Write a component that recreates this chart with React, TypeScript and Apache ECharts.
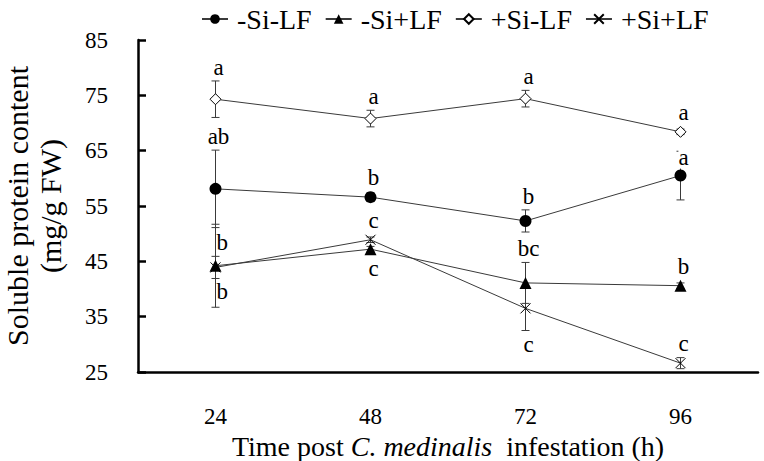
import React, { useEffect, useRef } from "react";
import * as echarts from "echarts";

// ---- data ----
const categories = ["24", "48", "72", "96"];
const seriesNames = ["-Si-LF", "-Si+LF", "+Si-LF", "+Si+LF"];

const minusSiMinusLF = [58.1, 56.6, 52.3, 60.5];
const minusSiMinusLFErr = [7.0, 0.8, 2.0, 4.4];

const minusSiPlusLF = [44.2, 47.2, 41.1, 40.6];
const minusSiPlusLFErr = [7.5, 0.5, 3.7, 0.5];

const plusSiMinusLF = [74.3, 70.8, 74.4, 68.4];
const plusSiMinusLFErr = [3.3, 1.5, 1.5, 0.5];

const plusSiPlusLF = [43.9, 48.9, 36.5, 26.6];
const plusSiPlusLFErr = [2.0, 0.5, 4.0, 1.0];

const yMin = 25;
const yMax = 85;
const yInterval = 10;

// significance letters: [series index, category index, side, text]
const letterNotes: [number, number, string, string][] = [
  [2, 0, "top", "a"],
  [2, 1, "top", "a"],
  [2, 2, "top", "a"],
  [2, 3, "top", "a"],
  [0, 0, "top", "ab"],
  [0, 1, "top", "b"],
  [0, 2, "top", "b"],
  [0, 3, "top-mark", "a"],
  [3, 0, "top-right", "b"],
  [3, 0, "bottom-right", "b"],
  [3, 1, "top", "c"],
  [1, 1, "bottom", "c"],
  [1, 2, "top", "bc"],
  [3, 2, "bottom", "c"],
  [1, 3, "top", "b"],
  [3, 3, "top", "c"],
];

const means = [minusSiMinusLF, minusSiPlusLF, plusSiMinusLF, plusSiPlusLF];
const errs = [minusSiMinusLFErr, minusSiPlusLFErr, plusSiMinusLFErr, plusSiPlusLFErr];

const FONT = "Times New Roman, Liberation Serif, serif";
const LINE = "#3a3a3a";

const symbols = [
  { symbol: "circle", size: 12, color: "#000", border: "#000" },
  { symbol: "triangle", size: 12, color: "#000", border: "#000" },
  { symbol: "diamond", size: 11, color: "#fff", border: "#000" },
  { symbol: "path://M0,0L10,10M10,0L0,10", size: 10, color: "none", border: "#000" },
];

export default function App() {
  const ref = useRef<HTMLDivElement>(null);
  useEffect(() => {
    if (!ref.current) return;
    const chart = echarts.init(ref.current, null, { renderer: "svg" });

    const lineSeries = seriesNames.map((name, i) => ({
      name,
      type: "line",
      data: means[i],
      symbol: symbols[i].symbol,
      symbolSize: symbols[i].size,
      showSymbol: true,
      z: 3,
      lineStyle: { color: LINE, width: 1 },
      itemStyle: {
        color: symbols[i].color,
        borderColor: symbols[i].border,
        borderWidth: i >= 2 ? 1 : 0,
        opacity: 1,
      },
      emphasis: { disabled: true },
    }));

    const errorData: number[][] = [];
    means.forEach((m, si) =>
      m.forEach((v, ci) => errorData.push([ci, v, errs[si][ci]]))
    );

    const errorSeries = {
      type: "custom",
      name: "err",
      z: 1,
      silent: true,
      data: errorData,
      encode: { x: 0, y: 1 },
      renderItem: (params: any, api: any) => {
        const c = api.value(0);
        const v = api.value(1);
        const e = api.value(2);
        const top = api.coord([c, v + e]);
        const bot = api.coord([c, v - e]);
        const hw = 4;
        const st = { stroke: LINE, lineWidth: 1 };
        return {
          type: "group",
          children: [
            { type: "line", shape: { x1: top[0], y1: top[1], x2: bot[0], y2: bot[1] }, style: st },
            { type: "line", shape: { x1: top[0] - hw, y1: top[1], x2: top[0] + hw, y2: top[1] }, style: st },
            { type: "line", shape: { x1: bot[0] - hw, y1: bot[1], x2: bot[0] + hw, y2: bot[1] }, style: st },
          ],
        };
      },
    };

    const letterData = letterNotes.map(([si, ci]) => [ci, means[si][ci], errs[si][ci]]);

    const letterSeries = {
      type: "custom",
      name: "letters",
      z: 2,
      silent: true,
      data: letterData,
      encode: { x: 0, y: 1 },
      renderItem: (params: any, api: any) => {
        const note = letterNotes[params.dataIndex];
        const side = note[2];
        const c = api.value(0);
        const v = api.value(1);
        const e = api.value(2);
        const p = api.coord([c, v]);
        const cap = api.coord([c, v + e]);
        const markOnly = side.endsWith("mark");
        const off = (markOnly ? 5 : Math.max(Math.abs(cap[1] - p[1]), 6)) + 2;
        const isTop = side.startsWith("top");
        const isRight = side.endsWith("right");
        const x = isRight ? p[0] + 1 : p[0] + 3;
        const y = isTop ? p[1] - off : p[1] + off;
        const align = isRight ? "left" : "center";
        const valign = isTop ? "bottom" : "top";
        return {
          type: "text",
          x,
          y,
          style: {
            text: note[3],
            fill: "#000",
            fontFamily: FONT,
            fontSize: 23,
            align,
            verticalAlign: valign,
            textAlign: align,
            textVerticalAlign: valign,
            backgroundColor: isRight ? undefined : "#fff",
          },
        };
      },
    };

    chart.setOption({
      animation: false,
      backgroundColor: "#fff",
      textStyle: { fontFamily: FONT },
      grid: { left: 138, right: 6, top: 40, bottom: 89, containLabel: false, outerBoundsMode: "none" },
      legend: {
        data: seriesNames,
        top: 0,
        left: 196,
        itemWidth: 26,
        itemHeight: 12,
        itemGap: 13,
        textStyle: { fontFamily: FONT, fontSize: 28, color: "#000", padding: [0, 0, 0, 4] },
      },
      xAxis: {
        type: "category",
        data: categories,
        boundaryGap: true,
        name: "Time post {i|C. medinalis}  infestation (h)",
        nameLocation: "middle",
        nameGap: 56,
        nameTextStyle: {
          fontFamily: FONT,
          fontSize: 28,
          color: "#000",
          rich: { i: { fontFamily: FONT, fontSize: 28, fontStyle: "italic", color: "#000" } },
        },
        axisLine: { lineStyle: { color: "#000", width: 2.5 } },
        axisTick: { inside: true, length: 8, lineStyle: { color: "#000", width: 2.5 } },
        axisLabel: { margin: 33, fontFamily: FONT, fontSize: 23, color: "#000" },
        splitLine: { show: false },
      },
      yAxis: {
        type: "value",
        min: yMin,
        max: yMax,
        interval: yInterval,
        name: "Soluble protein content\n(mg/g FW)",
        nameLocation: "middle",
        nameRotate: 90,
        nameGap: 71,
        nameTextStyle: { fontFamily: FONT, fontSize: 30, color: "#000", lineHeight: 33 },
        axisLine: { show: true, lineStyle: { color: "#000", width: 2.5 } },
        axisTick: { show: true, inside: true, length: 8, lineStyle: { color: "#000", width: 2.5 } },
        axisLabel: { margin: 30, fontFamily: FONT, fontSize: 23, color: "#000" },
        splitLine: { show: false },
      },
      series: [errorSeries, ...lineSeries, letterSeries],
    });
    return () => chart.dispose();
  }, []);
  return <div ref={ref} style={{ width: 764, height: 461, position: "absolute", left: 0, top: 0 }} />;
}
